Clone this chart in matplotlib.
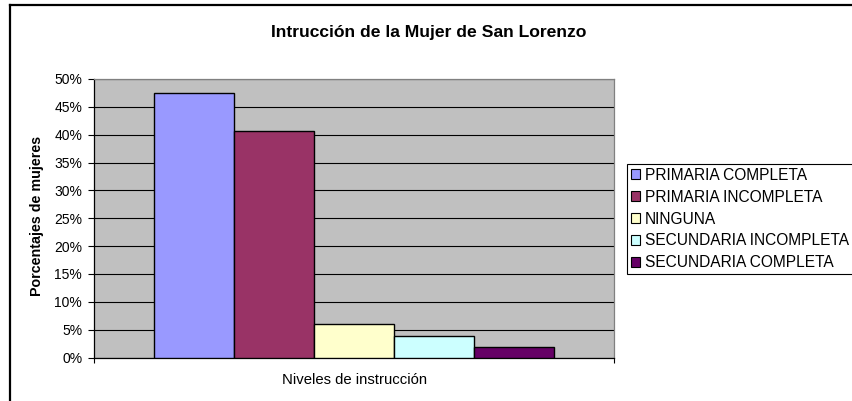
import matplotlib.pyplot as plt
from matplotlib.lines import Line2D
from matplotlib.patches import Patch
from matplotlib.ticker import PercentFormatter

plt.rcParams['font.family'] = ['Liberation Sans', 'DejaVu Sans']

title = 'Intrucción de la Mujer de San Lorenzo'
categories = ['PRIMARIA COMPLETA', 'PRIMARIA INCOMPLETA', 'NINGUNA',
              'SECUNDARIA INCOMPLETA', 'SECUNDARIA COMPLETA']
values = [47.5, 40.6, 6.0, 3.9, 1.9]
colors = ['#9999FF', '#993366', '#FFFFCC', '#CCFFFF', '#660066']
y_ticks = [0, 5, 10, 15, 20, 25, 30, 35, 40, 45, 50]

W, H = 852, 401
fig = plt.figure(figsize=(W / 100, H / 100), dpi=100)

# plot area in pixels: x 94..614, y 79..357.5
ax = fig.add_axes([94 / W, (H - 357.5) / H, 520 / W, (357.5 - 79) / H])
ax.set_facecolor('#C0C0C0')

bar_w = 0.2
n = len(values)
for i, (v, c) in enumerate(zip(values, colors)):
    x = (i - (n - 1) / 2) * bar_w
    ax.bar(x, v, width=bar_w, color=c, edgecolor='black', linewidth=1.0, zorder=3)

ax.set_xlim(-0.65, 0.65)
ax.set_ylim(0, 50)
ax.set_yticks(y_ticks)
ax.yaxis.set_major_formatter(PercentFormatter(decimals=0))
ax.set_xticks([-0.65, 0.65])
ax.set_xticklabels([])
ax.grid(axis='y', color='black', linewidth=0.8, zorder=1)
ax.set_axisbelow(True)
ax.tick_params(axis='y', direction='out', length=4, width=0.8, pad=4.5,
               labelsize=10, colors='black')
ax.tick_params(axis='x', direction='out', length=3.5, width=0.8)

ax.spines['left'].set_color('black')
ax.spines['bottom'].set_color('black')
ax.spines['top'].set_color('#808080')
ax.spines['right'].set_color('#808080')
for s in ax.spines.values():
    s.set_linewidth(0.9)

fig.text(429 / W, 1 - 32 / H, title, ha='center', va='center',
         fontsize=12.6, fontweight='bold')
fig.text(37 / W, 1 - 216 / H, 'Porcentajes de mujeres', ha='center', va='center',
         rotation=90, fontsize=10.3, fontweight='bold')
fig.text(354.5 / W, 1 - 380 / H, 'Niveles de instrucción', ha='center', va='center',
         fontsize=10.7)

handles = [Patch(facecolor=c, edgecolor='black', linewidth=0.8) for c in colors]
leg = fig.legend(handles, categories, loc='upper left',
                 bbox_to_anchor=(627 / W, 1 - 164 / H), borderaxespad=0,
                 fontsize=11.2, frameon=True, fancybox=False, framealpha=1,
                 edgecolor='black', handlelength=0.6, handleheight=0.6,
                 handletextpad=0.3, labelspacing=0.44, borderpad=0.25)
leg.get_frame().set_linewidth(0.8)

# outer chart border (clipped at right and bottom)
fig.add_artist(Line2D([9.5 / W, 9.5 / W], [0, 1 - 4.5 / H], transform=fig.transFigure,
                      color='black', linewidth=1.6))
fig.add_artist(Line2D([9.5 / W, 1], [1 - 4.5 / H, 1 - 4.5 / H], transform=fig.transFigure,
                      color='black', linewidth=1.6))

fig.savefig('out.png', dpi=100)
